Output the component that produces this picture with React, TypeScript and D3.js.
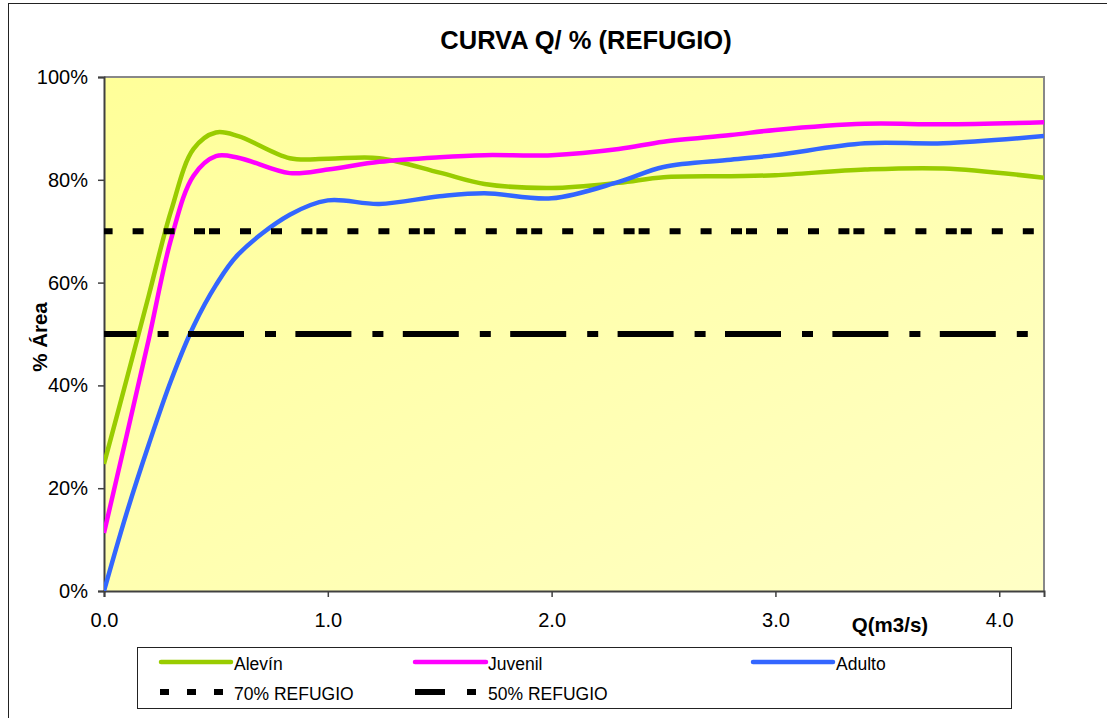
import React, { useEffect, useRef } from "react";
import * as d3 from "d3";

// caudal (m3/s) and % area de refugio per stage
const qValues = [0, 0.1, 0.2, 0.3, 0.4, 0.5, 0.6, 0.83, 1.0, 1.23, 1.5, 1.7, 2.0, 2.3, 2.5, 2.8, 3.0, 3.4, 3.75, 4.2];
const alevin = [24.7, 41, 57.5, 74, 86, 89.2, 88.5, 84.2, 84.1, 84.2, 81.4, 79.2, 78.4, 79.4, 80.5, 80.7, 80.9, 82.0, 82.2, 80.4];
const juvenil = [11.3, 30, 49, 68.5, 80.8, 84.6, 84.3, 81.3, 82.0, 83.5, 84.4, 84.8, 84.8, 86.0, 87.4, 88.7, 89.7, 90.9, 90.8, 91.2];
const adulto = [0, 15, 28.5, 41, 51.5, 59.5, 65.5, 73.2, 76, 75.3, 76.8, 77.4, 76.4, 79.6, 82.5, 83.9, 84.8, 87.1, 87.1, 88.5];

// threshold lines
const refQ = [0, 4.2];
const ref70 = [70, 70];
const ref50 = [50, 50];

const xTicks = [0, 1, 2, 3, 4];
const yTicks = [0, 20, 40, 60, 80, 100];

const FONT = "'Liberation Sans', Arial, sans-serif";

const App = () => {
  const svgRef = useRef<SVGSVGElement | null>(null);

  useEffect(() => {
    if (!svgRef.current) return;
    const svg = d3.select(svgRef.current);
    svg.selectAll("*").remove();

    const left = 104, right = 1044, top = 77, bottom = 591;
    const x = d3.scaleLinear().domain([0, 4.2]).range([left, right]);
    const y = d3.scaleLinear().domain([0, 100]).range([bottom, top]);

    // outer frame (cut by the picture edge)
    svg.append("rect")
      .attr("x", 8.5).attr("y", 3.5).attr("width", 1300).attr("height", 900)
      .attr("fill", "white").attr("stroke", "#222").attr("stroke-width", 1);

    const defs = svg.append("defs");
    const grad = defs.append("linearGradient").attr("id", "bg")
      .attr("x1", "0%").attr("y1", "0%").attr("x2", "100%").attr("y2", "100%");
    grad.append("stop").attr("offset", "0%").attr("stop-color", "#FFFF99");
    grad.append("stop").attr("offset", "100%").attr("stop-color", "#FFFFC6");
    defs.append("clipPath").attr("id", "plotclip")
      .append("rect").attr("x", left).attr("y", top - 3)
      .attr("width", right - left).attr("height", bottom - top + 3);

    svg.append("rect")
      .attr("x", left).attr("y", top).attr("width", right - left).attr("height", bottom - top)
      .attr("fill", "url(#bg)");
    // gray frame top/right
    svg.append("path")
      .attr("d", `M${left},${top}H${right}V${bottom}`)
      .attr("fill", "none").attr("stroke", "#888").attr("stroke-width", 2);

    // title
    svg.append("text")
      .attr("x", 586).attr("y", 49).attr("text-anchor", "middle")
      .attr("font-family", FONT).attr("font-weight", "bold").attr("font-size", 25.5)
      .text("CURVA Q/ % (REFUGIO)");

    // axes
    const yAxis = d3.axisLeft(y).tickValues(yTicks).tickSize(6).tickPadding(10)
      .tickFormat((d) => `${d}%`);
    const gy = svg.append("g").attr("transform", `translate(${left},0)`).call(yAxis);
    const xAxis = d3.axisBottom(x).tickValues(xTicks).tickSize(6).tickPadding(16)
      .tickFormat((d) => d3.format(".1f")(d as number));
    const gx = svg.append("g").attr("transform", `translate(0,${bottom})`).call(xAxis);
    [gx, gy].forEach((g) => {
      g.select(".domain").attr("stroke", "#404040").attr("stroke-width", 2);
      g.selectAll(".tick line").attr("stroke", "#404040").attr("stroke-width", 1.5);
      g.selectAll(".tick text").attr("font-family", FONT).attr("font-size", 20).attr("fill", "#000");
    });

    svg.append("text")
      .attr("transform", "translate(47,337) rotate(-90)").attr("text-anchor", "middle")
      .attr("font-family", FONT).attr("font-weight", "bold").attr("font-size", 20.5)
      .text("% Área");
    svg.append("text")
      .attr("x", 890).attr("y", 632).attr("text-anchor", "middle")
      .attr("font-family", FONT).attr("font-weight", "bold").attr("font-size", 20.5)
      .text("Q(m3/s)");

    const plot = svg.append("g").attr("clip-path", "url(#plotclip)");
    const line = d3.line<[number, number]>()
      .x((d) => x(d[0])).y((d) => y(d[1]))
      .curve(d3.curveCatmullRom.alpha(0.5));

    const series = [
      { name: "Alevín", values: alevin, color: "#99CC00" },
      { name: "Juvenil", values: juvenil, color: "#FF00FF" },
      { name: "Adulto", values: adulto, color: "#3366FF" },
    ];
    series.forEach((s) => {
      plot.append("path")
        .datum(qValues.map((q, i) => [q, s.values[i]] as [number, number]))
        .attr("fill", "none").attr("stroke", s.color).attr("stroke-width", 4.5)
        .attr("stroke-linejoin", "round")
        .attr("d", line);
    });

    const flat = d3.line<[number, number]>().x((d) => x(d[0])).y((d) => y(d[1]));
    plot.append("path")
      .datum(refQ.map((q, i) => [q, ref70[i]] as [number, number]))
      .attr("fill", "none").attr("stroke", "#000").attr("stroke-width", 6)
      .attr("stroke-dasharray", "11,4,11,20,11,20,11,19.4")
      .attr("stroke-dashoffset", 17.4)
      .attr("d", flat);
    plot.append("path")
      .datum(refQ.map((q, i) => [q, ref50[i]] as [number, number]))
      .attr("fill", "none").attr("stroke", "#000").attr("stroke-width", 6)
      .attr("stroke-dasharray", "56,21,11,19.4")
      .attr("stroke-dashoffset", 23.4)
      .attr("d", flat);

    // legend
    const lg = svg.append("g");
    lg.append("rect")
      .attr("x", 137.5).attr("y", 647.5).attr("width", 874).attr("height", 61)
      .attr("fill", "white").attr("stroke", "#222").attr("stroke-width", 1);
    const items = [
      { label: series[0].name, x0: 161, x1: 231, tx: 234, row: 0, color: series[0].color, dash: null, w: 4.5 },
      { label: series[1].name, x0: 415, x1: 486, tx: 488, row: 0, color: series[1].color, dash: null, w: 4.5 },
      { label: series[2].name, x0: 753, x1: 833, tx: 836, row: 0, color: series[2].color, dash: null, w: 4.5 },
      { label: "70% REFUGIO", x0: 160, x1: 223, tx: 234, row: 1, color: "#000", dash: "9,18", w: 6 },
      { label: "50% REFUGIO", x0: 415, x1: 476, tx: 488, row: 1, color: "#000", dash: "30,22,9", w: 6 },
    ];
    items.forEach((it) => {
      const cy = it.row === 0 ? 662 : 692;
      lg.append("line")
        .attr("x1", it.x0).attr("x2", it.x1).attr("y1", cy).attr("y2", cy)
        .attr("stroke", it.color).attr("stroke-width", it.w)
        .attr("stroke-linecap", it.dash ? "butt" : "round")
        .attr("stroke-dasharray", it.dash);
      lg.append("text")
        .attr("x", it.tx).attr("y", cy + 8)
        .attr("font-family", FONT).attr("font-size", 17.5)
        .text(it.label);
    });
  }, []);

  return (
    <svg
      ref={svgRef}
      width={1107}
      height={718}
      style={{ position: "absolute", left: 0, top: 0, background: "white" }}
    />
  );
};

export default App;
